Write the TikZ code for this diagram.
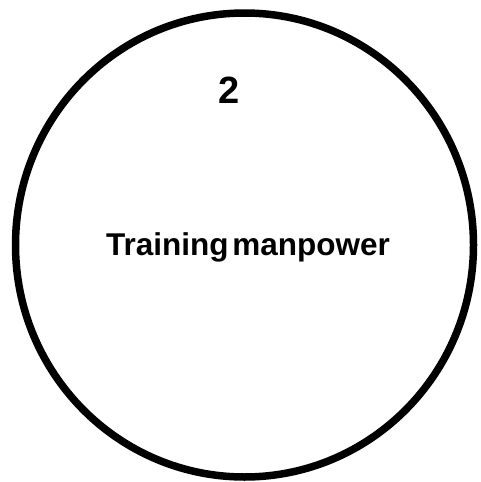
\documentclass[tikz,border=0pt]{standalone}
\usepackage{fontspec}
\setmainfont{Liberation Sans}
\usetikzlibrary{shapes.geometric}
\begin{document}
\begin{tikzpicture}[x=1pt,y=1pt,
  ring/.style={draw=black,line width=7.5pt},
  label/.style={font=\bfseries\fontsize{31.5}{34}\selectfont,inner sep=0pt},
  numlabel/.style={font=\bfseries\fontsize{38}{42}\selectfont,inner sep=0pt}]
\useasboundingbox (0,0) rectangle (480,-482);
\node[ring,ellipse,minimum width=458pt,minimum height=464pt,inner sep=0pt] (c) at (244.5,-245) {};
\node[numlabel,anchor=base] (n) at (229.5,-103) {2};
\node[label,anchor=base] (t) at (248,-255) {Training\hspace{0.12em}manpower};
\end{tikzpicture}
\end{document}
